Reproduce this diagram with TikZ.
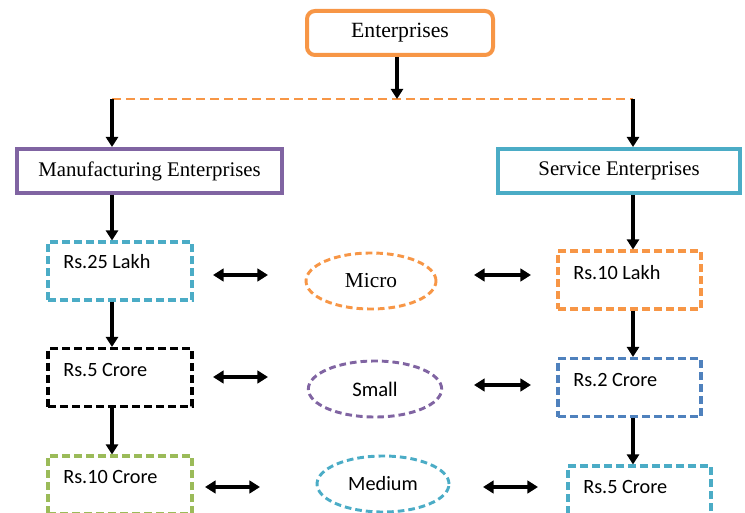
\documentclass[tikz,border=0pt]{standalone}
\usepackage{fontspec}
\setmainfont{Liberation Serif}
\newfontfamily\calib{Carlito}
\usetikzlibrary{arrows.meta,shapes.geometric}
\definecolor{corange}{HTML}{F79646}
\definecolor{cpurple}{HTML}{8064A2}
\definecolor{cteal}{HTML}{4BACC6}
\definecolor{cblue}{HTML}{4F81BD}
\definecolor{cgreen}{HTML}{9BBB59}
\begin{document}
\begin{tikzpicture}[x=0.75pt,y=-0.75pt,
  mainbox/.style={draw, line width=3pt, minimum height=33pt, inner sep=0pt, fill=white,
    font=\fontsize{15.6}{19}\selectfont},
  dbox/.style={draw, line width=2.3pt, dash pattern=on 6pt off 3pt, minimum width=108pt,
    minimum height=43.5pt, inner sep=0pt},
  rtext/.style={font=\calib\fontsize{15.2}{18}\selectfont, anchor=base west, inner sep=0pt},
  ell/.style={ellipse, draw, line width=2.2pt, dash pattern=on 5pt off 3pt, minimum height=42pt, inner sep=0pt},
  varrow/.style={-{Triangle[length=7.5pt,width=9pt]}, line width=2.3pt},
  dblarrow/.style={{Triangle[length=8pt,width=9.5pt]}-{Triangle[length=8pt,width=9.5pt]}, line width=2.4pt}
]
\useasboundingbox (0,0) rectangle (745,513);

% top level
\node[mainbox, draw=corange, rounded corners=6pt, minimum width=139.5pt, font=\fontsize{16.3}{19}\selectfont] (ent) at (400,33) {Enterprises};
\node[mainbox, draw=cpurple, minimum width=198.75pt] (man) at (149.5,171) {Manufacturing Enterprises};
\node[mainbox, draw=cteal, minimum width=181.5pt] (ser) at (619,171) {Service Enterprises};

\coordinate (jm) at (397,99);
\coordinate (jl) at (112,99);
\coordinate (jr) at (633,99);

\draw[corange, line width=1.6pt, dash pattern=on 7pt off 3.5pt] (jl) -- (jr);
\draw[varrow] (ent.south -| jm) -- (jm);
\draw[varrow] (jl) -- (jl |- man.north);
\draw[varrow] (jr) -- (jr |- ser.north);

% left column
\node[dbox, draw=cteal] (l1) at (120,271) {};
\node[dbox, draw=black] (l2) at (120,377.5) {};
\node[dbox, draw=cgreen] (l3) at (120,485) {};
\node[rtext] (t1) at (63,268) {Rs.25 Lakh};
\node[rtext] (t2) at (63,376) {Rs.5 Crore};
\node[rtext] (t3) at (63,483) {Rs.10 Crore};

\draw[varrow] (man.south -| jl) -- (l1.north -| jl);
\draw[varrow] (l1.south -| jl) -- (l2.north -| jl);
\draw[varrow] (l2.south -| jl) -- (l3.north -| jl);

% right column
\node[dbox, draw=corange, minimum width=107.25pt] (r1) at (629.5,280) {};
\node[dbox, draw=cblue, minimum width=107.25pt] (r2) at (629.5,387.5) {};
\node[dbox, draw=cteal, minimum width=107.25pt] (r3) at (639.5,495) {};
\node[rtext] (u1) at (573,279) {Rs.10 Lakh};
\node[rtext] (u2) at (573,386) {Rs.2 Crore};
\node[rtext] (u3) at (583,493) {Rs.5 Crore};

\draw[varrow] (ser.south -| jr) -- (r1.north -| jr);
\draw[varrow] (r1.south -| jr) -- (r2.north -| jr);
\draw[varrow] (r2.south -| jr) -- (r3.north -| jr);

% middle ellipses
\node[ell, draw=corange, minimum width=97.5pt, font=\fontsize{16}{19}\selectfont] (micro) at (371,281) {Micro};
\node[ell, draw=cpurple, minimum width=100pt, font=\calib\fontsize{15.5}{18}\selectfont] (small) at (375,389) {Small};
\node[ell, draw=cteal, minimum width=99pt, font=\calib\fontsize{15.2}{18}\selectfont] (medium) at (383,484) {Medium};

% double arrows
\coordinate (a1) at (213,275); \coordinate (b1) at (268,275);
\coordinate (a2) at (213,377); \coordinate (b2) at (268,377);
\coordinate (a3) at (205,487); \coordinate (b3) at (260,487);
\coordinate (c1) at (474,275); \coordinate (d1) at (531,275);
\coordinate (c2) at (474,385); \coordinate (d2) at (531,385);
\coordinate (c3) at (483,487); \coordinate (d3) at (538,487);
\draw[dblarrow] (a1) -- (b1);
\draw[dblarrow] (a2) -- (b2);
\draw[dblarrow] (a3) -- (b3);
\draw[dblarrow] (c1) -- (d1);
\draw[dblarrow] (c2) -- (d2);
\draw[dblarrow] (c3) -- (d3);
\end{tikzpicture}
\end{document}
